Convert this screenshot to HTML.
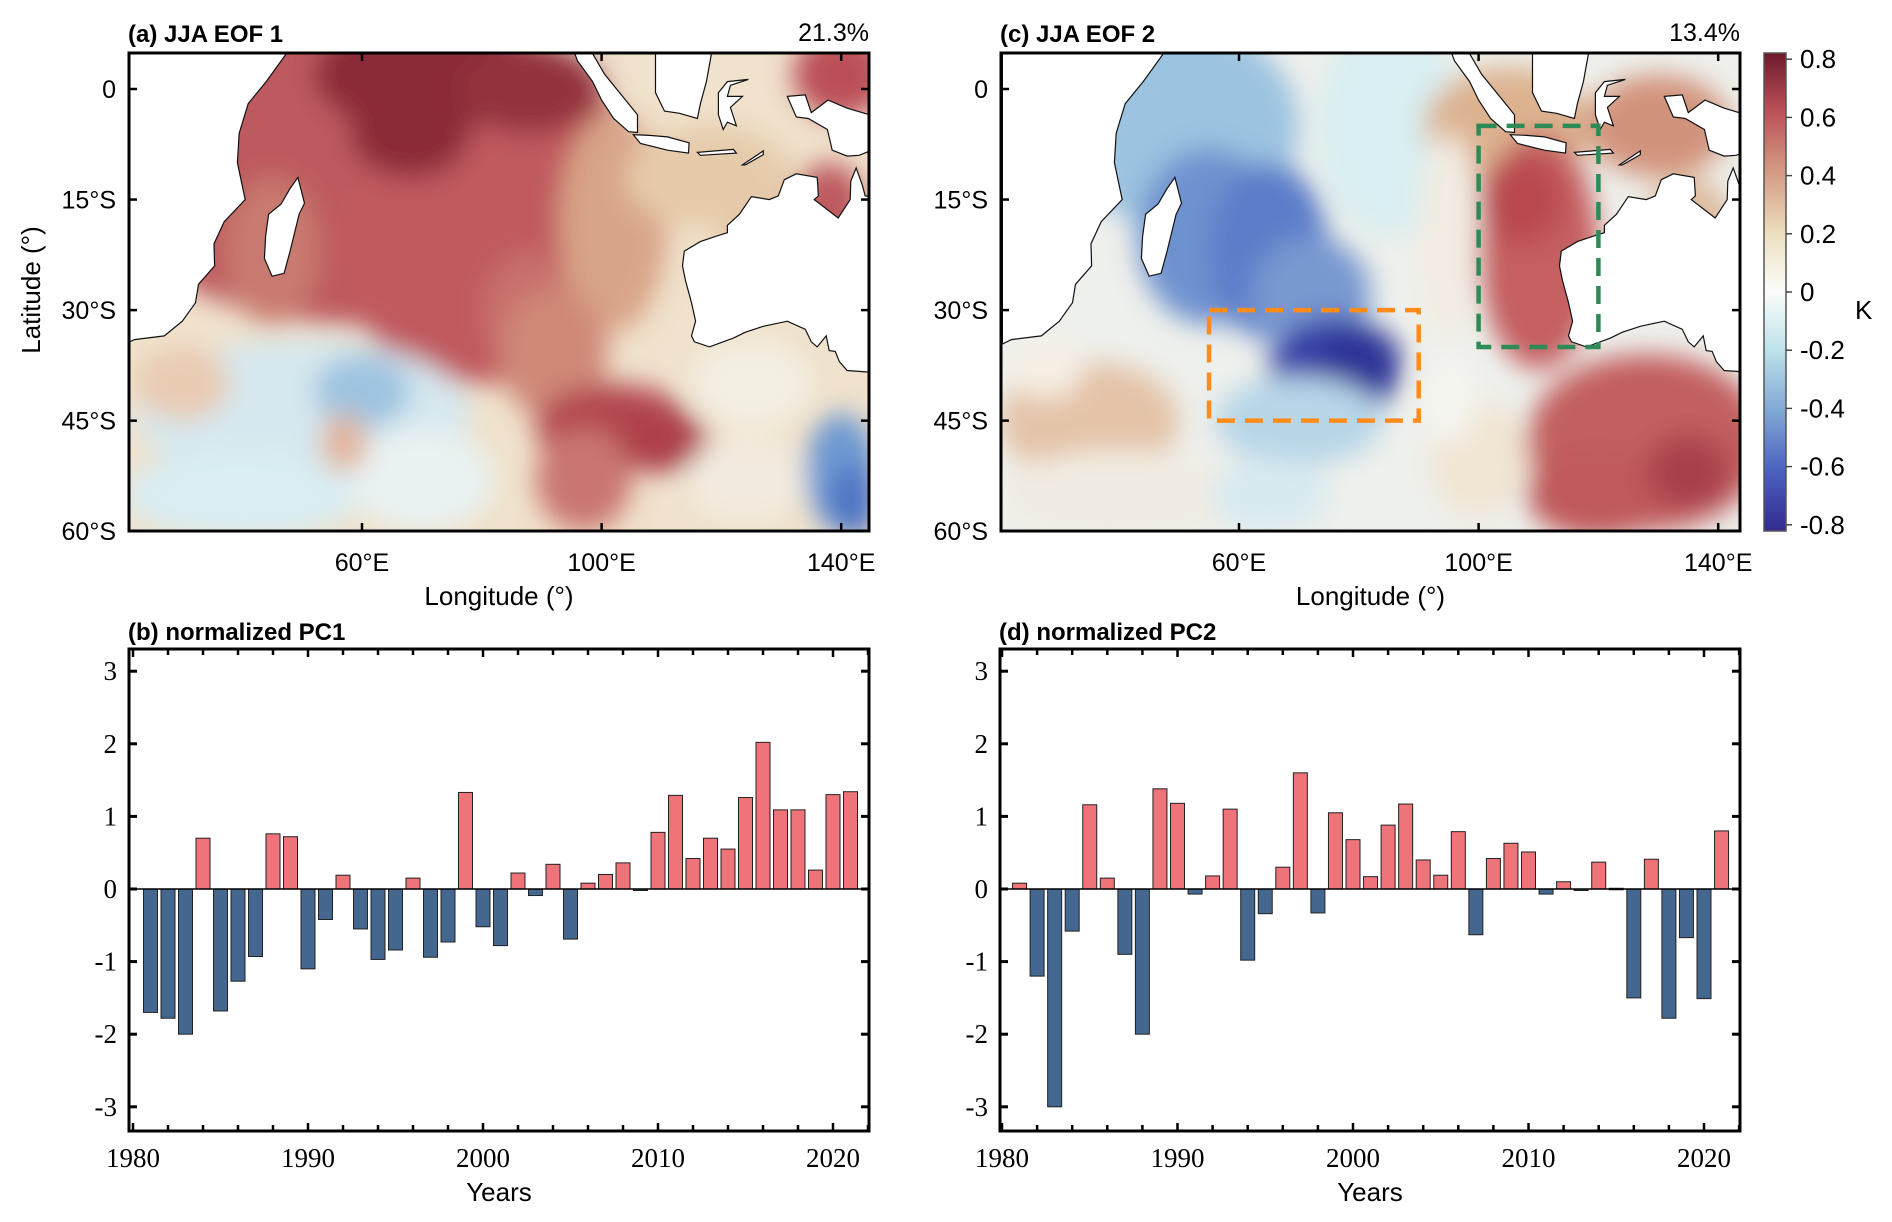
<!DOCTYPE html>
<html><head><meta charset="utf-8">
<style>
html,body{margin:0;padding:0;background:#fff;}
svg{display:block;}
</style></head>
<body>
<svg id="fig" width="1892" height="1222" viewBox="0 0 1892 1222" xmlns="http://www.w3.org/2000/svg">
<defs>
<filter id="blur1" x="-20%" y="-20%" width="140%" height="140%"><feGaussianBlur stdDeviation="13"/></filter>
<clipPath id="clipA"><rect x="129" y="53" width="740" height="478"/></clipPath>
<clipPath id="clipC"><rect x="1001" y="53" width="739" height="478"/></clipPath>
<linearGradient id="cbar" x1="0" y1="1" x2="0" y2="0">
<stop offset="0" stop-color="#332a8f"/>
<stop offset="0.12" stop-color="#4a5fbf"/>
<stop offset="0.25" stop-color="#7ea6d3"/>
<stop offset="0.38" stop-color="#bde2ea"/>
<stop offset="0.5" stop-color="#fbfdfb"/>
<stop offset="0.62" stop-color="#ede0c0"/>
<stop offset="0.75" stop-color="#d49b84"/>
<stop offset="0.88" stop-color="#bb5057"/>
<stop offset="1" stop-color="#6d1a2c"/>
</linearGradient>
</defs>
<g id="root"></g>
</svg>
<script>
// ---------- bar chart data ----------
const years = [];
for (let y = 1981; y <= 2021; y++) years.push(y);
const pc1 = [-1.70,-1.78,-2.00,0.70,-1.68,-1.27,-0.93,0.76,0.72,-1.10,-0.42,0.19,-0.55,-0.97,-0.84,0.15,-0.94,-0.73,1.33,-0.52,-0.78,0.22,-0.09,0.34,-0.69,0.08,0.20,0.36,-0.01,0.78,1.29,0.42,0.70,0.55,1.26,2.02,1.09,1.09,0.26,1.30,1.34];
const pc2 = [0.08,-1.20,-3.00,-0.58,1.16,0.15,-0.90,-2.00,1.38,1.18,-0.07,0.18,1.10,-0.98,-0.34,0.30,1.60,-0.33,1.05,0.68,0.17,0.88,1.17,0.40,0.19,0.79,-0.63,0.42,0.63,0.51,-0.07,0.10,-0.01,0.37,0.01,-1.50,0.41,-1.78,-0.67,-1.51,0.80];
const yTicks = [-3,-2,-1,0,1,2,3];
const xTicks = [1980,1990,2000,2010,2020];
const lonTicks = [60,100,140];
const latTicks = [0,-15,-30,-45,-60];
const latLabels = ["0","15°S","30°S","45°S","60°S"];
const cbTicks = [0.8,0.6,0.4,0.2,0,-0.2,-0.4,-0.6,-0.8];

const NS = "http://www.w3.org/2000/svg";
const root = document.getElementById('root');
function mk(tag, attrs, parent, text) {
  const e = document.createElementNS(NS, tag);
  for (const k in attrs) e.setAttribute(k, attrs[k]);
  if (text !== undefined) e.textContent = text;
  (parent || root).appendChild(e);
  return e;
}

// ---------- bar charts ----------
function barChart(x0, x1, y0, y1, x1980, x2020, vals, label, key) {
  const g = mk('g', {});
  
  
  const xs = v => x1980 + (v - 1980) * ((x2020 - x1980) / 40);
  const ys = v => 889 - v * 72.6;
  for (let i = 0; i < years.length; i++) {
    const v = vals[i];
    const cx = xs(years[i]);
    const w = 14;
    const top = Math.min(ys(v), ys(0)), h = Math.abs(ys(v) - ys(0));
    const r = mk('rect', {x: cx - w/2, y: top, width: w, height: Math.max(h, 1.5),
      fill: v >= 0 ? '#ee7479' : '#44678f', stroke: '#222', 'stroke-width': 1}, g);
    
    
  }
  mk('line', {x1: x0, x2: x1, y1: ys(0), y2: ys(0), stroke: '#000', 'stroke-width': 1.5}, g);
  const fr = mk('rect', {x: x0, y: y0, width: x1 - x0, height: y1 - y0, fill: 'none', stroke: '#000', 'stroke-width': 3}, g);
  
  
  yTicks.forEach(t => {
    const y = ys(t);
    mk('line', {x1: x0, x2: x0 + 8, y1: y, y2: y, stroke: '#000', 'stroke-width': 3}, g);
    mk('line', {x1: x1 - 8, x2: x1, y1: y, y2: y, stroke: '#000', 'stroke-width': 3}, g);
    const tl = mk('text', {x: x0 - 12, y: y + 9, 'text-anchor': 'end', 'font-family': 'Liberation Serif, serif', 'font-size': 27}, g, String(t));
    
    
  });
  for (let yr = 1980; yr <= 2022; yr += 2) {
    const x = xs(yr);
    const len = (yr % 10 === 0) ? 8 : 6;
    mk('line', {x1: x, x2: x, y1: y0, y2: y0 + len, stroke: '#000', 'stroke-width': 2.5}, g);
    mk('line', {x1: x, x2: x, y1: y1 - len, y2: y1, stroke: '#000', 'stroke-width': 2.5}, g);
  }
  xTicks.forEach(t => {
    const tl = mk('text', {x: xs(t), y: 1167, 'text-anchor': 'middle', 'font-family': 'Liberation Serif, serif', 'font-size': 27}, g, String(t));
    
    
  });
  const xt = mk('text', {x: (x0 + x1) / 2, y: 1201, 'text-anchor': 'middle', 'font-family': 'Liberation Sans, sans-serif', 'font-size': 26}, g, 'Years');
  
  
  const tt = mk('text', {x: x0 - 1, y: 640, 'font-family': 'Liberation Sans, sans-serif', 'font-size': 24, 'font-weight': 'bold'}, g, label);
  
  
}
barChart(129, 869, 649, 1131, 133, 833, pc1, '(b)  normalized PC1', 'pc1');
barChart(1000, 1740, 649, 1131, 1002, 1704, pc2, '(d)  normalized PC2', 'pc2');

// ---------- maps ----------
const africa = [[20.5,5.5],[48,5.5],[44,1],[41,-2],[39.5,-6],[39.2,-10],[40.5,-15],[37,-18],[35.3,-21],[35.4,-24],[32.7,-26.5],[32.2,-29],[30,-31.5],[27,-33.5],[22,-34],[20.5,-34.6]];
const madagascar = [[49.3,-12],[50.4,-15.5],[49.5,-17],[48,-22],[47,-25],[45,-25.4],[43.7,-23],[43.9,-20],[44.4,-17],[46.5,-15.6],[48,-13.5]];
const australia = [[121,-18.5],[123,-17],[125,-14.6],[128,-15],[129.5,-14.5],[130.5,-12.3],[132.5,-11.5],[136,-12],[136.2,-14.5],[135.5,-15],[139.5,-17.5],[141.5,-15],[141.6,-12.5],[142.5,-10.7],[143.5,-13],[144,-14.5],[146,-14.7],[146,-38.5],[141,-38.2],[139.7,-37],[139,-35.6],[138,-35.5],[137.5,-33.5],[136,-35],[135,-34.3],[134,-32.6],[131,-31.5],[127,-32.2],[124,-33],[122,-33.8],[118,-35],[115.5,-34.3],[115,-33.5],[115.7,-31.5],[115,-29],[114,-26],[113.5,-24],[113.8,-22],[116.5,-20.7],[119,-20],[121,-19.5]];
const sumatra = [[95.2,5.5],[98,5.5],[100.5,2],[104,-1.5],[106,-3.5],[106,-5.9],[104.5,-5.8],[102,-4],[100,-1.5],[98.5,1],[96,3.8]];
const java = [[105.3,-6.2],[108,-6.3],[111,-6.5],[114.6,-7.3],[114.5,-8.7],[111,-8.3],[106.5,-7.4]];
const borneo = [[109,5.5],[118.5,5.5],[117.5,1],[116.5,-2],[116,-4],[113,-3.3],[110.5,-3],[109,-0.5]];
const sulawesi = [[119.5,-0.5],[121,1],[124.5,1.3],[121.5,0.5],[121,-1],[123.5,-1],[121.5,-2.5],[122.5,-5],[121,-4.5],[120.3,-5.5],[119.5,-3.5]];
const newguinea = [[131,-1],[134,-0.8],[135,-3.2],[137.8,-1.5],[141,-2.6],[146,-3.8],[146,-8],[143,-9],[141,-9.1],[138.5,-8.3],[137.7,-5.5],[134.5,-4],[132.5,-3.8],[131.8,-2.5]];
const timor = [[123.5,-10.3],[127,-8.4],[127,-8.9],[124,-10.3]];
const flores = [[116,-8.6],[122,-8.2],[122.5,-8.7],[116.5,-9]];
const lands = [africa, madagascar, australia, sumatra, java, borneo, sulawesi, newguinea, timor, flores];

const blobs1 = [
 [60,-10,45,22,'#bd5a5e'],[80,-20,25,20,'#c05a5e'],[88,-30,8,8,'#c8706c'],[70,2,18,8,'#8b2a38'],[68,-6,10,6,'#8b2a38'],[88,0,12,6,'#93303d'],
 [45,-22,8,10,'#c97a70'],[102,-18,9,15,'#d8a488'],[118,-12,14,7,'#e6cbab'],[128,-22,8,6,'#e0c0a0'],
 [140,2,8,6,'#bb5058'],[138,-16,6,6,'#bd5a5e'],[92,-36,9,9,'#cf8878'],
 [50,-44,28,10,'#d6e8ef'],[60,-41,8,5,'#9ec3e0'],[40,-55,20,6,'#d9edf2'],[70,-53,12,7,'#e9f2f2'],
 [102,-46,13,6,'#b34650'],[110,-48,8,4,'#ad3f4a'],[97,-53,8,7,'#c9766f'],[125,-40,10,6,'#f3efe3'],
 [140,-52,6,8,'#6d98d2'],[142,-56,4,5,'#4f74c4'],[124,-53,10,6,'#f2ebdf'],[30,-40,8,5,'#e9cbb2'],[57,-48,4,4,'#e2b59c']
];
const blobs2 = [
 [50,-5,20,14,'#9cc3e0'],[55,-20,12,12,'#6e92cf'],[65,-22,10,12,'#5c7dc9'],[72,-28,10,8,'#7898d0'],[85,-5,12,15,'#d9eef0'],
 [76,-38,11,7,'#3942a8'],[80,-37,7,5,'#2f3597'],[70,-45,14,6,'#b7d6e8'],[35,-45,15,8,'#e4c3a8'],[40,-55,20,6,'#f1ece2'],
 [105,-5,14,8,'#dcb28f'],[110,-22,10,16,'#c55f61'],[107,-15,7,6,'#b9484f'],[130,-5,12,7,'#d2937c'],[135,-20,8,8,'#ddbb9d'],
 [128,-48,20,12,'#c25e5f'],[120,-55,12,6,'#c05a5c'],[135,-52,7,5,'#a8404b'],[100,-50,8,8,'#f1e5d3'],[95,-42,5,6,'#f4f4ef'],
 [28,-38,6,4,'#f6efe4'],[65,-55,10,5,'#d8eaf0'],[95,-20,5,14,'#f3ece2']
];
function drawMap(left, right, top, bottom, x60, base, blobs, clipId, key, title, pct, boxes) {
  const g = mk('g', {});
  
  
  const pxLon = 5.99, pxLat = 7.37;
  const lx = lon => x60 + (lon - 60) * pxLon;
  const ly = lat => 89 - lat * pxLat;
  const cg = mk('g', {'clip-path': 'url(#' + clipId + ')'}, g);
  mk('rect', {x: left, y: top, width: right - left, height: bottom - top, fill: base}, cg);
  const bg = mk('g', {filter: 'url(#blur1)'}, cg);
  blobs.forEach(b => {
    mk('ellipse', {cx: lx(b[0]), cy: ly(b[1]), rx: b[2] * pxLon, ry: b[3] * pxLat, fill: b[4]}, bg);
  });
  lands.forEach(p => {
    const pts = p.map(q => lx(q[0]).toFixed(1) + ',' + ly(q[1]).toFixed(1)).join(' ');
    const l = mk('polygon', {points: pts, fill: '#fff', stroke: '#111', 'stroke-width': 1.2}, cg);
    
    
  });
  (boxes || []).forEach(b => {
    const r = mk('rect', {x: lx(b[0]), y: ly(b[3]), width: lx(b[1]) - lx(b[0]), height: ly(b[2]) - ly(b[3]), fill: 'none', stroke: b[4], 'stroke-width': 4.5, 'stroke-dasharray': '18,10'}, g);
    
    
  });
  const fr = mk('rect', {x: left, y: top, width: right - left, height: bottom - top, fill: 'none', stroke: '#000', 'stroke-width': 3}, g);
  
  
  lonTicks.forEach(t => {
    const x = lx(t);
    mk('line', {x1: x, x2: x, y1: top, y2: top + 8, stroke: '#000', 'stroke-width': 2.5}, g);
    mk('line', {x1: x, x2: x, y1: bottom - 8, y2: bottom, stroke: '#000', 'stroke-width': 2.5}, g);
    const tl = mk('text', {x: x, y: 571, 'text-anchor': 'middle', 'font-family': 'Liberation Sans, sans-serif', 'font-size': 25}, g, t + '°E');
    
    
  });
  latTicks.forEach((t, i) => {
    const y = ly(t);
    mk('line', {x1: left, x2: left + 8, y1: y, y2: y, stroke: '#000', 'stroke-width': 2.5}, g);
    mk('line', {x1: right - 8, x2: right, y1: y, y2: y, stroke: '#000', 'stroke-width': 2.5}, g);
    const tl = mk('text', {x: left - 13, y: y + 9, 'text-anchor': 'end', 'font-family': 'Liberation Sans, sans-serif', 'font-size': 25}, g, latLabels[i]);
    
    
  });
  const xt = mk('text', {x: (left + right) / 2, y: 605, 'text-anchor': 'middle', 'font-family': 'Liberation Sans, sans-serif', 'font-size': 26}, g, 'Longitude (°)');
  
  
  const tt = mk('text', {x: left - 1, y: 42, 'font-family': 'Liberation Sans, sans-serif', 'font-size': 24, 'font-weight': 'bold'}, g, title);
  
  
  const pt = mk('text', {x: right, y: 41, 'text-anchor': 'end', 'font-family': 'Liberation Sans, sans-serif', 'font-size': 25}, g, pct);
  
  
}
drawMap(129, 869, 53, 531, 362, '#f0e2cc', blobs1, 'clipA', 'eof1-map', '(a)  JJA EOF 1', '21.3%');
drawMap(1001, 1740, 53, 531, 1239, '#eef0ec', blobs2, 'clipC', 'eof2-map', '(c)  JJA EOF 2', '13.4%',
  [[55,90,-45,-30,'#ff8c1a','orange-box'],[100,120,-35,-5,'#2e8b57','green-box']]);

const yl = mk('text', {x: 0, y: 0, transform: 'translate(40,290) rotate(-90)', 'text-anchor': 'middle', 'font-family': 'Liberation Sans, sans-serif', 'font-size': 26}, root, 'Latitude (°)');



// ---------- colorbar ----------
const cb = mk('g', {});


mk('rect', {x: 1764, y: 53, width: 22, height: 478, fill: 'url(#cbar)', stroke: '#555', 'stroke-width': 1.5}, cb);
const cby = v => 292 - v * 291;
cbTicks.forEach(t => {
  const y = cby(t);
  mk('line', {x1: 1786, x2: 1792, y1: y, y2: y, stroke: '#444', 'stroke-width': 1.5}, cb);
  const tl = mk('text', {x: 1800, y: y + 9, 'font-family': 'Liberation Sans, sans-serif', 'font-size': 26}, cb, String(t));
  
  
});
const kl = mk('text', {x: 1855, y: 319, 'font-family': 'Liberation Sans, sans-serif', 'font-size': 26}, cb, 'K');


</script>
</body></html>
